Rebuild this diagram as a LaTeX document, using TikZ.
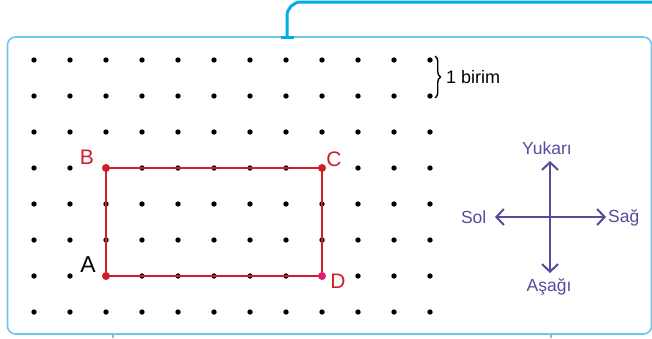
\documentclass[tikz,border=0pt]{standalone}
\usepackage{fontspec}
\setmainfont{Liberation Sans}
\usetikzlibrary{arrows.meta,decorations.pathreplacing}
\definecolor{framecol}{RGB}{110,198,236}
\definecolor{linkcol}{RGB}{0,172,236}
\definecolor{rectred}{RGB}{206,30,40}
\definecolor{dmag}{RGB}{228,28,120}
\definecolor{compasscol}{RGB}{92,72,156}
\tikzset{
  griddot/.style={fill=black},
  rectline/.style={draw=rectred, line width=2.6pt},
  cornerdot/.style={fill=rectred},
  ptlabel/.style={text=rectred, font=\fontsize{21}{23}\selectfont, inner sep=0pt},
  dirlabel/.style={text=compasscol, font=\fontsize{17.5}{19}\selectfont, inner sep=0pt},
  dirarrow/.style={draw=compasscol, line width=2pt, -{Straight Barb[length=7.5pt,width=16pt]}},
}
\begin{document}
\begin{tikzpicture}[x=1pt,y=-1pt]
\useasboundingbox (0,0) rectangle (652,338);
% frame
\draw[framecol, line width=1.6pt, rounded corners=8pt] (7.5,37) rectangle (651.5,334);
% bottom stubs
\draw[framecol, line width=2.5pt] (113,334) -- (113,338);
\draw[framecol, line width=2.5pt] (551,334) -- (551,338);
% top connector
\draw[linkcol, line width=3pt, rounded corners=14pt] (287,37) -- (287,2) -- (665,2);
\draw[linkcol, line width=2.5pt] (280.5,37.5) -- (293.5,37.5);
% dot grid
\foreach \i in {0,...,11}{
  \foreach \j in {0,...,7}{
    \fill[griddot] (34+36*\i,60+36*\j) circle (2.7pt);
  }
}
% rectangle
\coordinate (A) at (106,276);
\coordinate (B) at (106,168);
\coordinate (C) at (322,168);
\coordinate (D) at (322,276);
\draw[rectline] (A) -- (B) -- (C) -- (D) -- cycle;
\fill[cornerdot] (A) circle (4pt);
\fill[cornerdot] (B) circle (4pt);
\fill[cornerdot] (C) circle (4pt);
\fill[dmag] (D) circle (4pt);
\node[ptlabel] (lB) at (87,157) {B};
\node[ptlabel] (lC) at (334,159.5) {C};
\node[ptlabel] (lD) at (338,281.5) {D};
\node[ptlabel, text=black, font=\fontsize{23}{25}\selectfont] (lA) at (88,265) {A};
% brace
\coordinate (br1) at (435,56);
\coordinate (br2) at (435,98);
\draw[line width=1.4pt, decorate, decoration={brace, amplitude=5.5pt}] (br1) -- (br2);
\node[anchor=west, inner sep=0pt, font=\fontsize{18}{20}\selectfont] (unit) at (446,77.5) {1 birim};
% compass
\coordinate (O) at (550,217);
\coordinate (up) at (550,161);
\coordinate (dn) at (550,273);
\coordinate (lf) at (495,217);
\coordinate (rt) at (606,217);
\draw[dirarrow] (O) -- (up);
\draw[dirarrow] (O) -- (dn);
\draw[dirarrow] (O) -- (lf);
\draw[dirarrow] (O) -- (rt);
\node[dirlabel] (yuk) at (547,148) {Yukarı};
\node[dirlabel, anchor=east] (sol) at (486.5,217.5) {Sol};
\node[dirlabel, anchor=west] (sag) at (608,217.5) {Sağ};
\node[dirlabel] (asa) at (549,287) {Aşağı};
\end{tikzpicture}
\end{document}
